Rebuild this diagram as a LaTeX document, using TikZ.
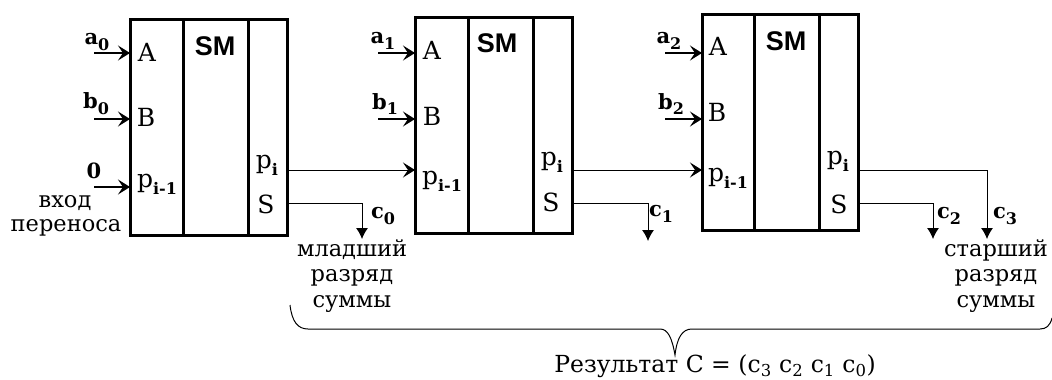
\documentclass[tikz,border=0pt]{standalone}
\usepackage{fontspec}
\setmainfont{DejaVu Serif}
\setsansfont{Liberation Sans}
\usetikzlibrary{positioning, arrows.meta}
\newcommand{\lowidx}[1]{\raisebox{-0.28em}{\fontsize{16}{16}\selectfont\bfseries #1}}
\begin{document}
\begin{tikzpicture}[
                    x=1pt, y=-1pt,
                    node distance=0pt,
                    cell/.style={draw, line width=3pt, minimum height=216pt, inner sep=0pt, outer sep=0pt},
                    port/.style={inner sep=0pt, font=\fontsize{25}{25}\selectfont},
                    sig/.style={inner sep=0pt, font=\bfseries\fontsize{21}{21}\selectfont},
                    smlabel/.style={inner sep=0pt, font=\sffamily\bfseries\fontsize{27}{27}\selectfont},
                    note/.style={inner sep=0pt, font=\fontsize{22.5}{22.5}\selectfont},
                    inarrow/.style={-{Stealth[length=12pt,width=15pt,inset=5pt]}, line width=1.6pt},
                    carry/.style={-{Stealth[length=12pt,width=15pt,inset=5pt]}, line width=1pt},
                    arrow/.style={-{Latex[length=11pt,width=12pt]}, line width=1pt}
                ]
                \useasboundingbox (0,0) rectangle (1052,380);

                % --- First adder ---
                \node[cell, minimum width=53pt, anchor=north west] (left_a) at (130,19) {};
                \node[cell, minimum width=65pt, right=of left_a] (mid_a) {};
                \node[cell, minimum width=39pt, right=of mid_a] (right_a) {};
                \node[port] (A_a) at (147,52) {A};
                \node[port] (B_a) at (146,117) {B};
                \node[port] (p_in_a) at (157,184) {p\lowidx{i-1}};
                \node[port] (p_out_a) at (267,165) {p\lowidx{i}};
                \node[port] (S_a) at (266,204) {S};
                \node[smlabel] (sm_a) at (215,46) {SM};

                \node[sig] (a_zero) at (97,42) {a\lowidx{0}};
                \node[sig] (b_zero) at (96,104) {b\lowidx{0}};
                \node[sig] (zero) at (94,171) {0};
                \node[note] (vhod) at (65,203) {вход};
                \node[note] (perenos) at (66,228) {переноса};

                \coordinate (a_zero_in) at (94,53);
                \coordinate (b_zero_in) at (94,119);
                \coordinate (zero_in) at (94,187);
                \draw[inarrow] (a_zero_in) -- (a_zero_in -| left_a.west);
                \draw[inarrow] (b_zero_in) -- (b_zero_in -| left_a.west);
                \draw[inarrow] (zero_in) -- (zero_in -| left_a.west);

                % --- Second adder ---
                \node[cell, minimum width=53pt, anchor=north west] (left_b) at (415,17) {};
                \node[cell, minimum width=65pt, right=of left_b] (mid_b) {};
                \node[cell, minimum width=39pt, right=of mid_b] (right_b) {};
                \node[port] (A_b) at (432,50) {A};
                \node[port] (B_b) at (432,116) {B};
                \node[port] (p_in_b) at (442,181) {p\lowidx{i-1}};
                \node[port] (p_out_b) at (552,162) {p\lowidx{i}};
                \node[port] (S_b) at (551,202) {S};
                \node[smlabel] (sm_b) at (497,43) {SM};

                \node[sig] (a_one) at (383,41) {a\lowidx{1}};
                \node[sig] (b_one) at (385,104) {b\lowidx{1}};

                \coordinate (a_one_in) at (378,53);
                \coordinate (b_one_in) at (378,119);
                \draw[inarrow] (a_one_in) -- (a_one_in -| left_b.west);
                \draw[inarrow] (b_one_in) -- (b_one_in -| left_b.west);

                % --- Third adder ---
                \node[cell, minimum width=52pt, anchor=north west] (left_c) at (702,14) {};
                \node[cell, minimum width=65pt, right=of left_c] (mid_c) {};
                \node[cell, minimum width=39pt, right=of mid_c] (right_c) {};
                \node[port] (A_c) at (718,46) {A};
                \node[port] (B_c) at (717,112) {B};
                \node[port] (p_in_c) at (728,178) {p\lowidx{i-1}};
                \node[port] (p_out_c) at (838,161) {p\lowidx{i}};
                \node[port] (S_c) at (839,204) {S};
                \node[smlabel] (sm_c) at (786,41) {SM};

                \node[sig] (a_two) at (669,41) {a\lowidx{2}};
                \node[sig] (b_two) at (671,104) {b\lowidx{2}};

                \coordinate (a_two_in) at (665,53);
                \coordinate (b_two_in) at (665,119);
                \draw[inarrow] (a_two_in) -- (a_two_in -| left_c.west);
                \draw[inarrow] (b_two_in) -- (b_two_in -| left_c.west);

                % --- Carry ---
                \coordinate (carry_ab) at (287,170);
                \coordinate (carry_bc) at (572,170);
                \draw[carry] (carry_ab) -- (carry_ab -| left_b.west);
                \draw[carry] (carry_bc) -- (carry_bc -| left_c.west);

                % --- Outputs ---
                \coordinate (sum_a) at (287,203);
                \coordinate (sum_b) at (572,203);
                \coordinate (sum_c) at (858,203);
                \coordinate (carry_c) at (858,170);
                \coordinate (tip_a) at (362,239);
                \coordinate (tip_b) at (648,241);
                \coordinate (tip_c) at (933,239);
                \coordinate (tip_d) at (987,239);
                \draw[arrow] (sum_a) -| (tip_a);
                \draw[arrow] (sum_b) -| (tip_b);
                \draw[arrow] (sum_c) -| (tip_c);
                \draw[arrow] (carry_c) -| (tip_d);

                \node[sig] (c_zero) at (383,216) {c\lowidx{0}};
                \node[sig] (c_one) at (661,214) {c\lowidx{1}};
                \node[sig] (c_two) at (949,216) {c\lowidx{2}};
                \node[sig] (c_three) at (1005,216) {c\lowidx{3}};

                % --- Notes ---
                \node[note] (low_one) at (352,250) {младший};
                \node[note] (low_two) at (352,278) {разряд};
                \node[note] (low_three) at (352,304) {суммы};
                \node[note] (high_one) at (996,250) {старший};
                \node[note] (high_two) at (996,278) {разряд};
                \node[note] (high_three) at (996,304) {суммы};

                % --- Brace ---
                \draw[line width=1pt] (290,305) .. controls (292,322) and (298,329) .. (308,329) -- (660,329)
                    .. controls (668,329) and (672,338) .. (675,355)
                    .. controls (677,338) and (682,329) .. (692,329) -- (1040,329)
                    .. controls (1046,329) and (1050,326) .. (1052,318);

                \node[note, font=\fontsize{23.5}{23.5}\selectfont] (result) at (715,366) {Результат C = (c\textsubscript{3} c\textsubscript{2} c\textsubscript{1} c\textsubscript{0})};

                \end{tikzpicture}
\end{document}
